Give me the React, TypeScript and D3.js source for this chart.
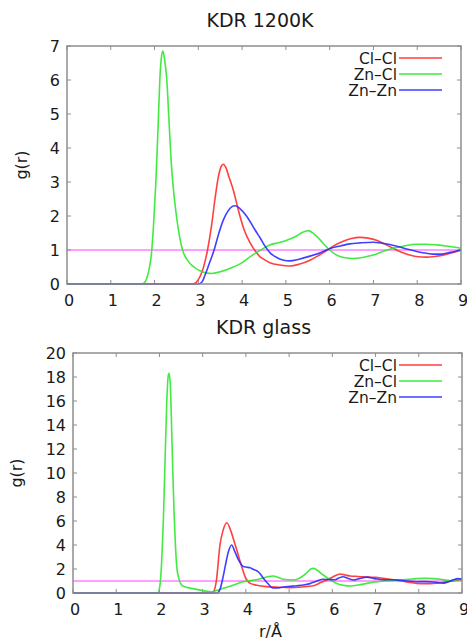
import React from 'react';
import * as d3 from 'd3';

type Pt = [number, number];

// KDR 1200K (top panel), r in Å, g(r)
const topClCl: Pt[] = [[0,0],[2.85,0],[2.95,0.05],[3.05,0.25],[3.12,0.5],[3.21,1.0],[3.3,1.7],[3.38,2.5],[3.45,3.1],[3.52,3.45],[3.57,3.52],[3.63,3.42],[3.7,3.15],[3.8,2.76],[3.88,2.35],[3.95,2.0],[4.05,1.58],[4.18,1.22],[4.3,0.97],[4.41,0.8],[4.48,0.74],[4.65,0.62],[4.86,0.56],[5.09,0.53],[5.3,0.58],[5.55,0.7],[5.75,0.84],[5.93,0.98],[6.1,1.13],[6.31,1.26],[6.5,1.34],[6.69,1.37],[6.88,1.35],[7.07,1.29],[7.25,1.18],[7.45,1.05],[7.63,0.94],[7.83,0.85],[8.02,0.8],[8.21,0.79],[8.4,0.81],[8.59,0.85],[8.8,0.92],[9,0.99]];
const topZnCl: Pt[] = [[0,0],[1.72,0],[1.8,0.1],[1.87,0.4],[1.93,0.9],[1.98,1.8],[2.03,3.0],[2.08,4.6],[2.12,6.0],[2.16,6.7],[2.19,6.85],[2.23,6.6],[2.28,6.0],[2.33,4.8],[2.38,3.6],[2.43,2.8],[2.5,2.0],[2.57,1.4],[2.64,1.0],[2.75,0.7],[2.9,0.5],[3.05,0.38],[3.2,0.32],[3.3,0.31],[3.5,0.36],[3.8,0.5],[4.0,0.63],[4.18,0.8],[4.4,0.98],[4.63,1.15],[4.85,1.22],[5.02,1.29],[5.2,1.38],[5.38,1.52],[5.51,1.57],[5.65,1.47],[5.85,1.2],[6.0,1.0],[6.16,0.85],[6.35,0.77],[6.54,0.75],[6.75,0.78],[6.99,0.85],[7.2,0.95],[7.45,1.05],[7.7,1.12],[7.98,1.17],[8.2,1.17],[8.44,1.15],[8.7,1.11],[9,1.05]];
const topZnZn: Pt[] = [[0,0],[3.0,0],[3.08,0.05],[3.15,0.25],[3.25,0.6],[3.36,1.0],[3.47,1.5],[3.57,1.88],[3.68,2.15],[3.76,2.27],[3.84,2.3],[3.95,2.22],[4.1,2.0],[4.2,1.8],[4.3,1.58],[4.41,1.36],[4.52,1.12],[4.65,0.9],[4.79,0.78],[4.95,0.7],[5.09,0.68],[5.3,0.73],[5.55,0.82],[5.8,0.93],[6.0,1.04],[6.25,1.12],[6.46,1.18],[6.7,1.21],[6.99,1.23],[7.2,1.2],[7.37,1.16],[7.56,1.1],[7.76,1.03],[7.95,0.97],[8.13,0.92],[8.35,0.88],[8.55,0.88],[8.75,0.93],[9,1.0]];

// KDR glass (bottom panel)
const glassClCl: Pt[] = [[0,0],[3.18,0],[3.25,0.1],[3.32,1.1],[3.4,4.0],[3.47,5.2],[3.56,5.86],[3.65,5.2],[3.72,4.4],[3.79,3.58],[3.86,2.7],[3.92,2.0],[3.98,1.36],[4.1,0.8],[4.25,0.65],[4.48,0.53],[4.75,0.48],[5.02,0.45],[5.3,0.5],[5.56,0.6],[5.72,0.85],[5.87,1.08],[6.02,1.35],[6.18,1.58],[6.3,1.5],[6.41,1.42],[6.6,1.38],[6.8,1.32],[7.0,1.3],[7.18,1.22],[7.38,1.12],[7.57,1.03],[7.76,0.9],[7.95,0.8],[8.15,0.78],[8.34,0.8],[8.5,0.86],[8.65,0.93],[8.8,1.02],[9,1.12]];
const glassZnCl: Pt[] = [[0,0],[1.96,0],[2.01,0.6],[2.05,2.5],[2.09,6],[2.13,11],[2.17,16],[2.2,18],[2.22,18.3],[2.25,17.5],[2.28,14],[2.31,10],[2.34,6.5],[2.37,4],[2.4,2.2],[2.45,1.2],[2.51,0.67],[2.6,0.5],[2.73,0.4],[2.86,0.3],[3.0,0.2],[3.21,0.1],[3.32,0.2],[3.48,0.39],[3.7,0.65],[3.94,0.94],[4.15,1.05],[4.32,1.17],[4.5,1.35],[4.63,1.42],[4.75,1.3],[4.87,1.14],[5.1,1.08],[5.25,1.25],[5.4,1.65],[5.5,2.0],[5.56,2.05],[5.65,1.9],[5.79,1.5],[5.95,1.1],[6.1,0.8],[6.25,0.65],[6.41,0.58],[6.6,0.66],[6.8,0.8],[7.0,0.92],[7.18,1.0],[7.38,1.05],[7.57,1.08],[7.76,1.14],[7.95,1.2],[8.15,1.22],[8.34,1.2],[8.5,1.15],[8.72,1.03],[8.85,1.08],[9,1.14]];
const glassZnZn: Pt[] = [[0,0],[3.34,0],[3.4,0.3],[3.47,1.3],[3.52,2.2],[3.6,3.5],[3.67,4.0],[3.75,3.4],[3.83,2.75],[3.94,2.2],[4.02,2.15],[4.1,2.1],[4.18,1.95],[4.25,1.85],[4.32,1.65],[4.4,1.25],[4.52,0.75],[4.62,0.42],[4.7,0.42],[4.87,0.5],[5.02,0.55],[5.18,0.6],[5.33,0.66],[5.48,0.78],[5.63,0.98],[5.79,1.14],[5.92,1.12],[6.06,1.1],[6.15,1.25],[6.25,1.36],[6.37,1.2],[6.49,1.08],[6.62,1.2],[6.8,1.32],[6.98,1.2],[7.18,1.1],[7.38,1.1],[7.57,1.06],[7.76,1.0],[7.95,0.94],[8.15,0.95],[8.34,0.92],[8.46,0.85],[8.57,0.82],[8.7,0.95],[8.8,1.1],[8.9,1.2],[9,1.16]];

const seriesNames = ['Cl\u2013Cl', 'Zn\u2013Cl', 'Zn\u2013Zn'];
const seriesColors = ['#ff2b2b', '#2ee82e', '#2b2bff'];
const legendColors = ['#ff6e6e', '#6ef06e', '#6e6eff'];
const xTicks = d3.range(0, 10);
const topYTicks = d3.range(0, 8);
const glassYTicks = d3.range(0, 21, 2);

const FONT = '"DejaVu Sans", sans-serif';

type PanelProps = {
  title: string;
  series: Pt[][];
  yMax: number;
  yTicks: number[];
  left: number; right: number; top: number; bottom: number;
  titleY: number; ylabelX: number; xlabel?: string;
};

const Panel = ({ title, series, yMax, yTicks, left, right, top, bottom, titleY, ylabelX, xlabel }: PanelProps) => {
  const x = d3.scaleLinear().domain([0, 9]).range([left, right]);
  const y = d3.scaleLinear().domain([0, yMax]).range([bottom, top]);
  const line = d3.line<Pt>().x(d => x(d[0])).y(d => y(d[1])).curve(d3.curveMonotoneX);
  const tl = 4;
  const frame = '#8e8e8e';
  return (
    <g fontFamily={FONT} fill="#1a1a1a">
      <text x={(left + right) / 2 - 4} y={titleY} fontSize={19} textAnchor="middle">{title}</text>
      <text transform={`translate(${ylabelX},${(top + bottom) / 2}) rotate(-90)`} fontSize={16} textAnchor="middle">g(r)</text>
      {xTicks.map(t => (
        <g key={'x' + t}>
          <line x1={x(t)} x2={x(t)} y1={bottom} y2={bottom - tl} stroke={frame} />
          <line x1={x(t)} x2={x(t)} y1={top} y2={top + tl} stroke={frame} />
          <text x={x(t) + 2} y={bottom + 22} fontSize={16} textAnchor="middle">{t}</text>
        </g>
      ))}
      {yTicks.map(t => (
        <g key={'y' + t}>
          <line x1={left} x2={left + tl} y1={y(t)} y2={y(t)} stroke={frame} />
          <line x1={right} x2={right - tl} y1={y(t)} y2={y(t)} stroke={frame} />
          <text x={left - 7} y={y(t) + 6} fontSize={16} textAnchor="end">{t}</text>
        </g>
      ))}
      <line x1={left} x2={right} y1={y(1)} y2={y(1)} stroke="#ff40ff" strokeWidth={1.2} />
      {series.map((s, i) => (
        <path key={i} d={line(s) ?? ''} fill="none" stroke={seriesColors[i]} strokeWidth={1.6} strokeOpacity={0.9} />
      ))}
      {seriesNames.map((n, i) => (
        <g key={n}>
          <text x={397} y={top + 18 + i * 16} fontSize={15.5} textAnchor="end">{n}</text>
          <line x1={399} x2={442} y1={top + 12 + i * 16} y2={top + 12 + i * 16} stroke={legendColors[i]} strokeWidth={1.8} />
        </g>
      ))}
      <rect x={left} y={top} width={right - left} height={bottom - top} fill="none" stroke={frame} strokeWidth={1.5} />
      {xlabel && <text x={(left + right) / 2 + 3} y={bottom + 44} fontSize={16} textAnchor="middle">{xlabel}</text>}
    </g>
  );
};

export default function App() {
  return (
    <svg width={467} height={641} style={{ position: 'absolute', left: 0, top: 0, background: '#fff' }}>
      <Panel title="KDR 1200K" series={[topClCl, topZnCl, topZnZn]} yMax={7} yTicks={topYTicks}
        left={67} right={461} top={46} bottom={284} titleY={27} ylabelX={27} />
      <Panel title="KDR glass" series={[glassClCl, glassZnCl, glassZnZn]} yMax={20} yTicks={glassYTicks}
        left={73} right={462} top={353} bottom={593} titleY={334} ylabelX={22} xlabel="r/Å" />
    </svg>
  );
}
